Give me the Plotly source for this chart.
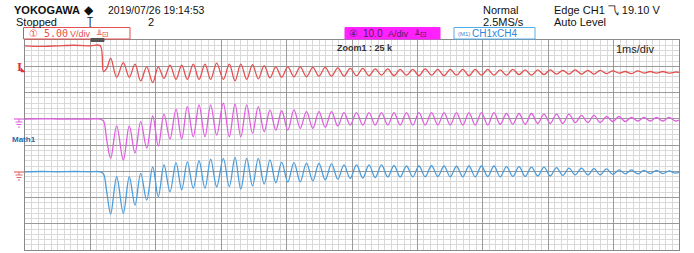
import plotly.graph_objects as go

# ---------------- data ----------------
# time in ms from the left edge of the screen (1 ms/div, 10 div)
t_pre = [0.00, 0.25, 0.50, 0.75, 1.00, 1.15, 1.20, 1.25]
t_osc = [1.310, 1.402, 1.503, 1.595, 1.682, 1.769, 1.861, 1.953, 2.038, 2.125,
         2.217, 2.309, 2.396, 2.482, 2.573, 2.661, 2.752, 2.839, 2.931, 3.032,
         3.124, 3.211, 3.300, 3.390, 3.479, 3.567, 3.657, 3.746, 3.835, 3.925,
         4.018, 4.113, 4.208, 4.304, 4.401, 4.495, 4.590, 4.687, 4.783, 4.878,
         4.972, 5.069, 5.165, 5.260, 5.355, 5.451, 5.547, 5.642, 5.737, 5.833,
         5.930, 6.024, 6.119, 6.216, 6.312, 6.407, 6.502, 6.598, 6.694, 6.789,
         6.884, 6.980, 7.076, 7.171, 7.266, 7.362, 7.459, 7.554, 7.648, 7.745,
         7.841, 7.936, 8.031, 8.127, 8.223, 8.318, 8.413, 8.509, 8.606, 8.700,
         8.795, 8.891, 8.988, 9.083, 9.177, 9.274, 9.370, 9.465, 9.560, 9.656,
         9.752, 9.847, 9.942, 10.000]

# CH1 voltage (V), 5 V/div
ch1_pre = [23.9, 23.8, 23.9, 24.0, 23.9, 23.9, 19.0, 19.6]
ch1_osc = [21.5, 17.9, 20.7, 17.9, 20.4, 17.2, 19.9, 16.9, 19.9, 17.7,
           20.2, 17.5, 20.2, 17.5, 20.4, 17.5, 20.4, 17.5, 20.6, 17.5,
           20.4, 17.2, 20.4, 17.5, 20.3, 17.6, 20.1, 17.8, 19.9, 17.9,
           19.9, 18.0, 19.9, 18.0, 19.8, 18.1, 19.8, 18.1, 19.7, 18.1,
           19.6, 18.2, 19.6, 18.2, 19.5, 18.3, 19.5, 18.2, 19.4, 18.3,
           19.4, 18.2, 19.5, 18.3, 19.4, 18.2, 19.4, 18.3, 19.4, 18.2,
           19.4, 18.3, 19.4, 18.3, 19.3, 18.3, 19.4, 18.4, 19.3, 18.3,
           19.3, 18.4, 19.3, 18.5, 19.2, 18.5, 19.3, 18.5, 19.2, 18.5,
           19.2, 18.6, 19.1, 18.7, 19.0, 18.6, 19.1, 18.7, 19.0, 18.7,
           19.0, 18.7, 18.9, 18.85]

# CH4 current (A), 10 A/div
ch4_pre = [-0.2, -0.1, -0.2, -0.1, -0.2, -0.2, -1.0, -7.9]
ch4_osc = [-16.3, -2.1, -16.0, -2.1, -12.9, -0.8, -11.0, 1.7, -9.7, 2.4,
           -7.8, 3.3, -7.1, 3.6, -6.5, 4.0, -6.5, 4.6, -5.9, 4.9,
           -5.9, 5.3, -6.8, 4.9, -5.6, 4.9, -4.9, 4.3, -4.4, 3.5,
           -4.1, 3.3, -4.0, 3.1, -3.7, 3.0, -3.3, 2.8, -3.0, 2.4,
           -2.7, 2.4, -2.6, 2.4, -2.4, 2.4, -2.2, 2.2, -2.2, 2.0,
           -2.1, 2.0, -2.1, 2.1, -2.0, 2.0, -2.1, 1.9, -2.1, 2.0,
           -2.1, 2.0, -2.0, 2.0, -2.1, 1.8, -2.0, 1.8, -2.0, 1.6,
           -1.8, 1.6, -1.8, 1.4, -1.6, 1.2, -1.4, 1.2, -1.4, 1.0,
           -1.4, 0.9, -1.2, 0.5, -1.0, 0.5, -1.0, 0.3, -0.9, 0.3,
           -0.9, 0.1, -0.7, -0.4]

# Math1 = CH1 x CH4 (W), shown at 200 W/div
math_pre = [-2, -1, -2, -3, -2, -2, -17, -162]
math_osc = [-301, -55, -314, -55, -261, -22, -223, 21, -208, 36,
            -154, 74, -154, 92, -137, 105, -137, 105, -124, 118,
            -137, 112, -137, 105, -111, 92, -99, 67, -86, 61,
            -86, 67, -73, 54, -73, 54, -65, 54, -55, 46,
            -48, 46, -48, 46, -48, 46, -48, 46, -48, 46,
            -48, 46, -48, 46, -48, 46, -48, 46, -48, 46,
            -48, 46, -48, 46, -42, 40, -42, 40, -42, 40,
            -36, 36, -36, 36, -36, 36, -29, 25, -29, 25,
            -29, 17, -21, 17, -21, 11, -17, 11, -17, 11,
            -17, 11, -17, -10]

t_all = t_pre + t_osc
ch1 = ch1_pre + ch1_osc
ch4 = ch4_pre + ch4_osc
math1 = math_pre + math_osc

# ---------------- styling ----------------
RED = "#e44f4f"
MAG = "#df5fdf"
BLUE = "#4c9ddb"
FONT = "Liberation Sans"

W, H = 694, 253
PL, PR, PT, PB = 25, 679, 40, 250   # plot area in pixels


def px(x):
    return (x - PL) / (PR - PL)


def py(y):
    return (PB - y) / (PB - PT)


fig = go.Figure()
fig.add_trace(go.Scatter(x=t_all, y=ch1, mode="lines", yaxis="y",
                         line=dict(color=RED, width=1.3, shape="spline", smoothing=1.0),
                         hoverinfo="skip"))
fig.add_trace(go.Scatter(x=t_all, y=math1, mode="lines", yaxis="y3",
                         line=dict(color=MAG, width=1.3, shape="spline", smoothing=1.0),
                         hoverinfo="skip"))
fig.add_trace(go.Scatter(x=t_all, y=ch4, mode="lines", yaxis="y2",
                         line=dict(color=BLUE, width=1.3, shape="spline", smoothing=1.0),
                         hoverinfo="skip"))

GRID_MAJ = "#9a9a9a"
GRID_MIN = "#d9d9d9"

fig.update_layout(
    width=W, height=H,
    margin=dict(l=PL, r=W - PR, t=PT, b=H - PB),
    paper_bgcolor="white", plot_bgcolor="white",
    showlegend=False,
    xaxis=dict(range=[0, 10], dtick=1, tick0=0, showgrid=True, gridcolor=GRID_MAJ, gridwidth=1,
               minor=dict(dtick=0.1, showgrid=True, gridcolor=GRID_MIN, gridwidth=1),
               showticklabels=False, ticks="", zeroline=False,
               showline=True, linecolor="#8a8a8a", linewidth=1, mirror=True, fixedrange=True),
    yaxis=dict(range=[-15, 25], dtick=5, tick0=0, showgrid=True, gridcolor=GRID_MAJ, gridwidth=1,
               minor=dict(dtick=1, showgrid=True, gridcolor=GRID_MIN, gridwidth=1),
               showticklabels=False, ticks="", zeroline=False,
               showline=True, linecolor="#8a8a8a", linewidth=1, mirror=True, fixedrange=True),
    yaxis2=dict(range=[-30, 50], overlaying="y", visible=False, fixedrange=True),
    yaxis3=dict(range=[-1000, 600], overlaying="y", visible=False, fixedrange=True),
)

ann = []


def text(x, y, s, size=11, color="#111", bold=False, family=FONT, xanchor="left"):
    if bold:
        s = "<b>" + s + "</b>"
    ann.append(dict(x=px(x), y=py(y), xref="paper", yref="paper", text=s, showarrow=False,
                    xanchor=xanchor, yanchor="middle",
                    font=dict(size=size, color=color, family=family)))


# header
text(12, 10, "YOKOGAWA", size=11, bold=True)
text(82, 9.5, "◆", size=12)
text(106, 10, "2019/07/26 19:14:53", size=10.5)
text(14, 21.5, "Stopped", size=11)
text(85, 21.5, "Ţ", size=10)
text(146, 21.5, "2", size=11)
text(481, 10, "Normal", size=11)
text(481, 21.5, "2.5MS/s", size=11)
text(552, 10, "Edge CH1 ⺄ 19.10 V", size=11)
text(552, 21.5, "Auto Level", size=11)

shapes = []


def rect(x0, y0, x1, y1, line="#000", fill="rgba(0,0,0,0)", width=1):
    shapes.append(dict(type="rect", xref="paper", yref="paper",
                       x0=px(x0), x1=px(x1), y0=py(y0), y1=py(y1),
                       line=dict(color=line, width=width), fillcolor=fill, layer="above"))


def seg(x0, y0, x1, y1, color, width=1):
    shapes.append(dict(type="line", xref="paper", yref="paper",
                       x0=px(x0), x1=px(x1), y0=py(y0), y1=py(y1),
                       line=dict(color=color, width=width), layer="above"))


# channel boxes
rect(23.5, 27.5, 130, 39, line=RED, fill="white")
text(27, 33.5, "①", size=10, color=RED, family="DejaVu Sans")
text(42, 33.5, "5.00", size=10, color=RED, family="DejaVu Sans Mono")
text(68, 33.5, "V/div", size=9, color=RED, family="Liberation Sans")
text(94, 33.5, "╨⊡", size=8, color=RED, family="DejaVu Sans")
rect(345, 27.5, 440, 39, line="#ff22ff", fill="#ff22ff")
text(347, 33.5, "④", size=10, color="#5a1a5a", family="DejaVu Sans")
text(361, 33.5, "10.0", size=10, color="#5a1a5a", family="Liberation Sans")
text(386, 33.5, "A/div", size=9, color="#5a1a5a", family="Liberation Sans")
text(412, 33.5, "╨⊡", size=8, color="#5a1a5a", family="DejaVu Sans")
rect(454, 27.5, 535, 39, line="#59aee8", fill="white")
text(456, 33.5, "(M1)", size=6, color="#2f86d6")
text(470, 33.5, "CH1xCH4", size=10, color="#2f86d6")

# trigger position marker on top edge
rect(91, 38.5, 104, 41.5, line="#555", fill="#555")

# in-plot labels
text(335, 47.5, "Zoom1 : 25 k", size=9, bold=True, color="#333")
text(614, 49.5, "1ms/div", size=11, color="#222")

# left side markers
text(19, 66, "I", size=13, bold=True, color="#d33", family="Liberation Serif", xanchor="center")
shapes.append(dict(type="path", xref="paper", yref="paper",
                   path="M %f,%f L %f,%f L %f,%f Z" % (px(21), py(68), px(25), py(72), px(21), py(72)),
                   fillcolor="#d33", line=dict(color="#d33", width=0.5), layer="above"))


def ground(yc, color):
    seg(14, yc, 24, yc, color, 1.2)
    seg(19, yc, 19, yc + 3, color, 1)
    seg(15.5, yc + 3, 22.5, yc + 3, color, 1)
    seg(16.5, yc + 5.5, 21.5, yc + 5.5, color, 1)
    seg(18, yc + 8, 20, yc + 8, color, 1)


ground(119, MAG)
ground(172, "#e46a6a")
text(10, 139.5, "Math1", size=8, color="#2c6aa8", bold=True)

fig.update_layout(annotations=ann, shapes=shapes)
# remove the browser's default 8px page margin so the figure fills the window
fig.write_html("out.html", config={"displayModeBar": False},
               post_script="document.body.style.margin='0';")
